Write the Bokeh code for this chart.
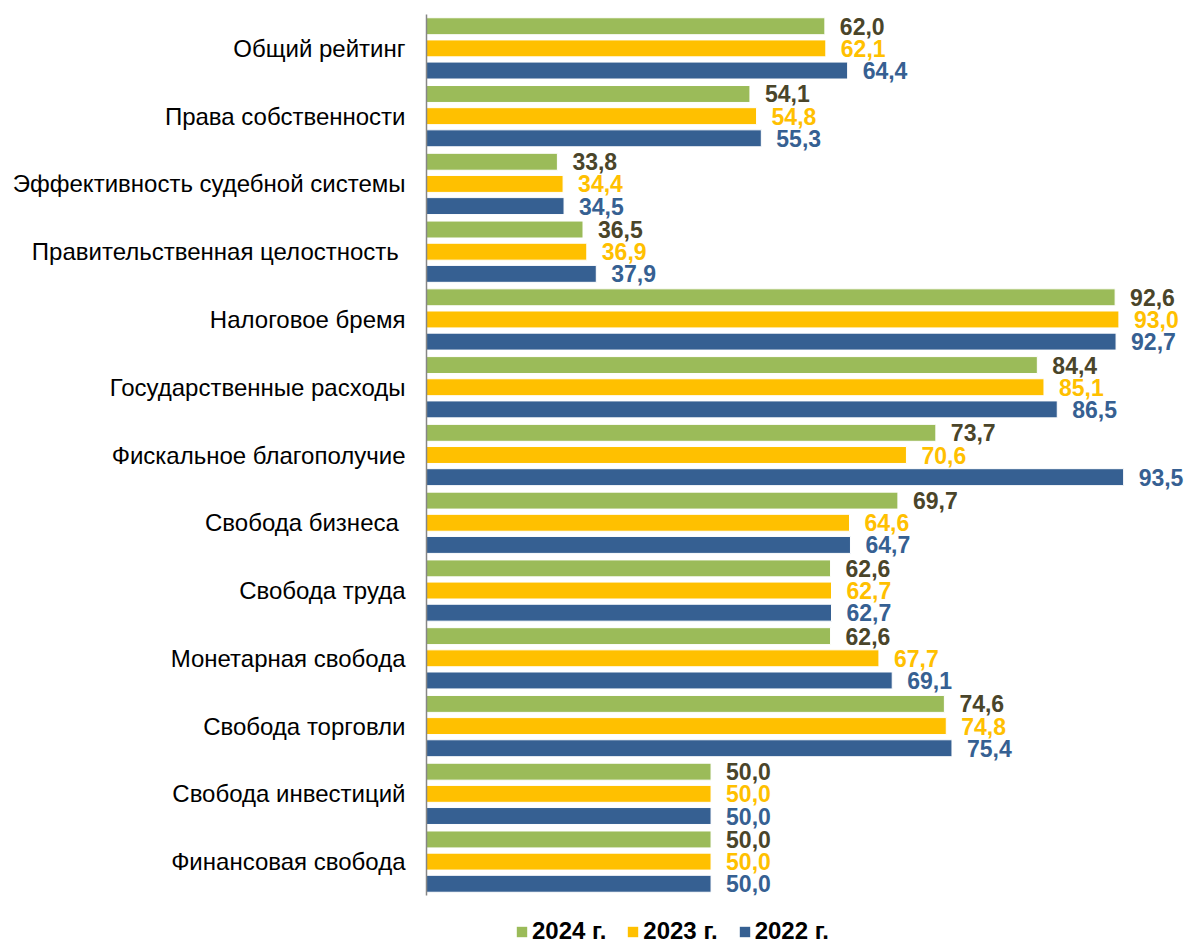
from bokeh.plotting import figure
from bokeh.models import ColumnDataSource, FactorRange, Range1d, Legend, LegendItem
from bokeh.layouts import column
from bokeh.transform import dodge
from bokeh.core.properties import value
from bokeh.embed import file_html
from bokeh.resources import INLINE

categories = [
    "Общий рейтинг",
    "Права собственности",
    "Эффективность судебной системы",
    "Правительственная целостность ",
    "Налоговое бремя",
    "Государственные расходы",
    "Фискальное благополучие",
    "Свобода бизнеса ",
    "Свобода труда",
    "Монетарная свобода",
    "Свобода торговли",
    "Свобода инвестиций",
    "Финансовая свобода",
]
v2024 = [62.0, 54.1, 33.8, 36.5, 92.6, 84.4, 73.7, 69.7, 62.6, 62.6, 74.6, 50.0, 50.0]
v2023 = [62.1, 54.8, 34.4, 36.9, 93.0, 85.1, 70.6, 64.6, 62.7, 67.7, 74.8, 50.0, 50.0]
v2022 = [64.4, 55.3, 34.5, 37.9, 92.7, 86.5, 93.5, 64.7, 62.7, 69.1, 75.4, 50.0, 50.0]
series_names = ["2024 г.", "2023 г.", "2022 г."]

FONT = "Liberation Sans"
C_GREEN = "#9BBB59"
C_YELLOW = "#FFC000"
C_BLUE = "#366092"
C_DARK = "#4A452A"
bar_colors = [C_GREEN, C_YELLOW, C_BLUE]

def fmt(v):
    return f"{v:.1f}".replace(".", ",")

src = ColumnDataSource(dict(
    cat=categories,
    v2024=v2024, v2023=v2023, v2022=v2022,
    l2024=[fmt(v) for v in v2024],
    l2023=[fmt(v) for v in v2023],
    l2022=[fmt(v) for v in v2022],
))

W = 1185
LEFT = 426
XMIN = 20
XMAX = XMIN + (W - LEFT) / 9.485
p = figure(
    width=W, height=900,
    y_range=FactorRange(factors=list(reversed(categories)), range_padding=0),
    x_range=Range1d(XMIN, XMAX),
    x_axis_location=None,
    output_backend="svg", toolbar_location=None,
    min_border_left=LEFT, min_border_right=0, min_border_top=14, min_border_bottom=5,
)
p.outline_line_color = None
p.xgrid.visible = False
p.ygrid.visible = False

OFF = 0.327
H = 0.25
specs = [("v2024", "l2024", OFF, C_GREEN, C_DARK),
         ("v2023", "l2023", 0.0, C_YELLOW, C_YELLOW),
         ("v2022", "l2022", -OFF, C_BLUE, C_BLUE)]
for col, lab, off, color, tcolor in specs:
    p.hbar(y=dodge("cat", off, range=p.y_range), right=col, left=XMIN, height=H,
           source=src, fill_color=color, line_color="white", line_width=1)
    p.text(x=col, y=dodge("cat", off, range=p.y_range), text=lab, source=src,
           x_offset=15, text_baseline="middle", text_align="left",
           text_font=value(FONT), text_font_style="bold", text_font_size="23px",
           text_color=tcolor)

ax = p.yaxis[0]
ax.axis_line_color = "#868686"
ax.axis_line_width = 1.5
ax.major_tick_line_color = None
ax.minor_tick_line_color = None
ax.major_tick_in = 0
ax.major_tick_out = 0
ax.major_label_standoff = 21
ax.major_label_text_font = FONT
ax.major_label_text_font_size = "24px"
ax.major_label_text_color = "#000000"

# legend strip below the chart (frame aligned with the chart's frame by the column)
lp = figure(width=W, height=46, x_range=Range1d(0, 1), y_range=Range1d(0, 1),
            x_axis_location=None, y_axis_location=None,
            output_backend="svg", toolbar_location=None,
            min_border_left=LEFT, min_border_right=0, min_border_top=0, min_border_bottom=0)
lp.outline_line_color = None
lp.xgrid.visible = False
lp.ygrid.visible = False
# proxy glyphs for the legend swatches only (placed outside the visible range)
leg_src = ColumnDataSource(dict(y=[5], right=[5]))
leg_renderers = [lp.hbar(y="y", right="right", left=4, height=0.5, source=leg_src,
                         fill_color=c, line_color=None) for c in bar_colors]
legend = Legend(
    items=[LegendItem(label=n, renderers=[r]) for n, r in zip(series_names, leg_renderers)],
    orientation="horizontal", location=(89, 1),
    glyph_width=13, glyph_height=13, label_standoff=4, spacing=20,
    padding=0, margin=0, border_line_color=None, background_fill_alpha=0,
    label_text_font=FONT, label_text_font_style="bold", label_text_font_size="24px",
    label_text_color="#000000",
)
lp.add_layout(legend)

layout = column(p, lp, spacing=0)
open("out.html", "w").write(file_html(layout, INLINE))
